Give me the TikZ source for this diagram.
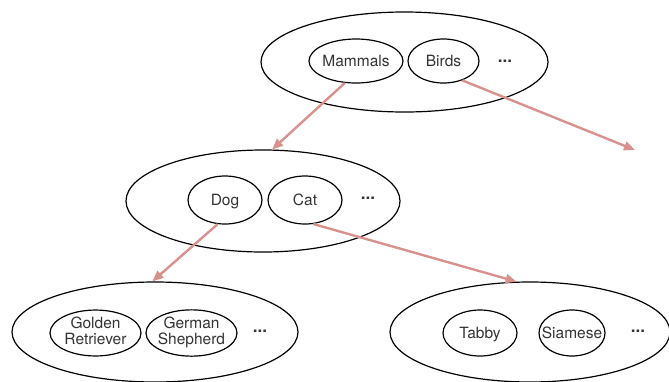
\documentclass[tikz,border=0pt]{standalone}
\usepackage{fontspec}
\setmainfont{TeX Gyre Heros}
\usetikzlibrary{arrows.meta,shapes.geometric}
\definecolor{arbRosa}{HTML}{D9918E}
\definecolor{arbTexto}{HTML}{333333}
\newcommand{\nm}[1]{\makebox[0pt]{\raisebox{0pt}[0.72em][0pt]{#1}}}
\newcommand{\nmm}[1]{\makebox[0pt]{\begin{tabular}{@{}c@{}}#1\end{tabular}}}

\begin{document}
\begin{tikzpicture}[x=1pt,y=-1pt,
      g/.style 2 args={ellipse, draw=black, line width=1.2pt, inner sep=0pt,
                minimum width=#1, minimum height=#2},
      fl/.style={-{Triangle[length=11pt,width=9pt]}, line width=2.4pt, draw=arbRosa},
      pt/.style={font=\fontsize{17}{17}\selectfont\bfseries},
      every node/.style={align=center, text=arbTexto, font=\fontsize{15.5}{16}\selectfont}]
    \clip (0,0) rectangle (669,381);
    % nivel 1
    \node[g={287pt}{100pt}] (reino) at (404.5,62) {};
    \node[g={94pt}{44pt}]   (mam)   at (356,61)   {\nm{Mammals}};
    \node[g={71pt}{44pt}]   (ave)   at (443.5,61) {\nm{Birds}};
    \node[pt]               (pA)    at (505,61)   {...};
    % nivel 2
    \node[g={274pt}{102pt}] (mamG)  at (263,201)  {};
    \node[g={74pt}{48pt}]   (dog)   at (225,200)  {\nm{Dog}};
    \node[g={74pt}{48pt}]   (cat)   at (305,200)  {\nm{Cat}};
    \node[pt]               (pB)    at (368,198)  {...};
    % nivel 3
    \node[g={286pt}{100pt}] (dogG)  at (155,332)  {};
    \node[g={91pt}{43pt}]   (gold)  at (95.5,333) {\nmm{Golden\\Retriever}};
    \node[g={91pt}{43pt}]   (germ)  at (191.5,333){\nmm{German\\Shepherd}};
    \node[pt]               (pC)    at (260,331)  {...};
    \node[g={280pt}{100pt}] (catG)  at (530,332)  {};
    \node[g={74pt}{46pt}]   (tab)   at (480,333)  {\nm{Tabby}};
    \node[g={66pt}{46pt}]   (siam)  at (572,333)  {\nm{Siamese}};
    \node[pt]               (pD)    at (638,331)  {...};
    \coordinate (fuera) at (635,150);
    \draw[fl] (mam.243) -- (mamG.80);
    \draw[fl] (ave.314) -- (fuera);
    \draw[fl] (dog.253) -- (dogG.93);
    \draw[fl] (cat.289) -- (catG.105);
  \end{tikzpicture}
\end{document}
